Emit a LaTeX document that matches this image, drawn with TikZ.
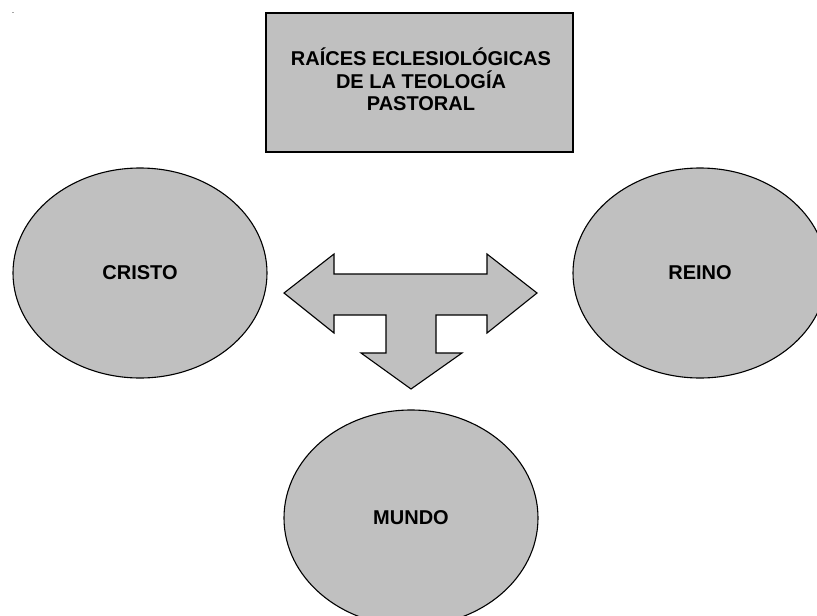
\documentclass[tikz,border=0pt]{standalone}
\usepackage{fontspec}
\setmainfont{Liberation Sans}
\usetikzlibrary{shapes.geometric}

\definecolor{shapegray}{HTML}{C0C0C0}

\tikzset{
  blob/.style={ellipse, draw=black, fill=shapegray, line width=1.1pt,
    inner sep=0pt, minimum width=254pt, minimum height=210pt,
    font=\bfseries\fontsize{20}{22.5}\selectfont},
  titlebox/.style={rectangle, draw=black, fill=shapegray, line width=1.1pt,
    inner sep=0pt, minimum width=307pt, minimum height=139pt},
  titletext/.style={align=center, inner sep=0pt,
    font=\bfseries\fontsize{20}{22.5}\selectfont},
  bigarrow/.style={draw=black, fill=shapegray, line width=1.1pt, line join=miter}
}

\begin{document}
\begin{tikzpicture}[x=1pt, y=-1pt]
  \useasboundingbox (0,0) rectangle (817,616);
  \clip (0,0) rectangle (817,616);
  \fill[white] (0,0) rectangle (817,616);

  % small stray mark near the corner
  \fill[gray!70] (11.5,11.5) rectangle (14,12.8);

  % title box
  \node[titlebox] (title) at (419.5,82.5) {};
  \node[titletext] (titlelabel) at (421,79.5)
    {RAÍCES ECLESIOLÓGICAS\\DE LA TEOLOGÍA\\PASTORAL};

  % the three ellipses
  \node[blob] (cristo) at (140,273) {CRISTO};
  \node[blob] (reino)  at (700,273) {REINO};
  \node[blob, minimum height=216pt] (mundo) at (411,518) {MUNDO};

  % three-way block arrow between the ellipses
  \coordinate (ltip) at (284,293);
  \coordinate (rtip) at (537,293);
  \coordinate (dtip) at (411,389);
  \draw[bigarrow]
    (ltip) -- (334,254) -- (334,274) -- (487,274) -- (487,254)
    -- (rtip) -- (487,333) -- (487,315) -- (436,315) -- (436,353)
    -- (462,353) -- (dtip) -- (361,353) -- (386,353) -- (386,315)
    -- (334,315) -- (334,333) -- cycle;
\end{tikzpicture}
\end{document}
